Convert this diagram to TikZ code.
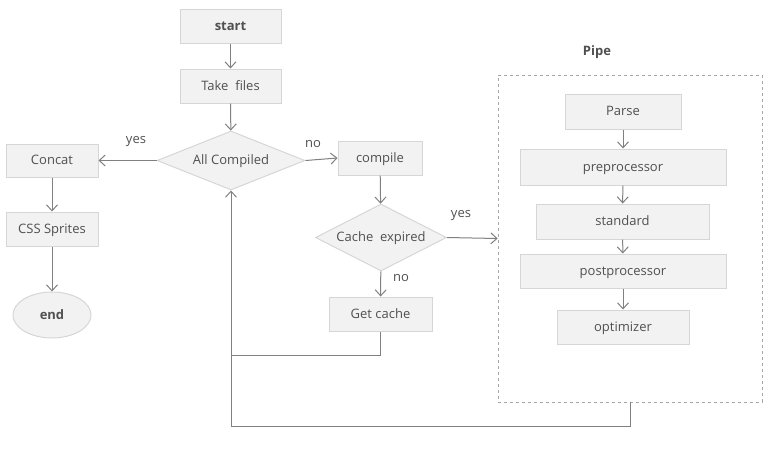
\documentclass[tikz,border=0pt]{standalone}
\usepackage{fontspec}
\setmainfont{Open Sans}
\usepackage{tikz}
\usetikzlibrary{positioning,arrows.meta,shapes.geometric}
\usepackage{xcolor}
\definecolor{boxfill}{HTML}{F2F2F2}
\definecolor{boxline}{HTML}{D6D6D6}
\definecolor{arrline}{HTML}{808080}
\definecolor{txt}{HTML}{505050}

\begin{document}
\begin{tikzpicture}[x=1pt, y=-1pt,
    every node/.style={text=txt, font=\fontsize{13}{15}\selectfont},
    stepbox/.style={draw=boxline, fill=boxfill, line width=1pt, minimum height=34pt, inner sep=0pt, text height=8pt, text depth=0pt},
    choice/.style={diamond, draw=boxline, fill=boxfill, line width=1pt, inner sep=0pt, text height=8pt, text depth=0pt},
    arr/.style={draw=arrline, line width=1pt, -{Straight Barb[length=6pt,width=11pt]}},
    lin/.style={draw=arrline, line width=1pt},
    lbl/.style={text=txt, inner sep=0pt}]
    \useasboundingbox (0,0) rectangle (776,448);

    % Main column
    \node[stepbox, minimum width=101pt, font=\fontsize{13}{15}\selectfont\bfseries] (start) at (230.5,26) {start};
    \node[stepbox, minimum width=101pt] (take) at (230.5,86) {Take\ \ files};
    \node[choice, aspect=2.5, minimum width=148pt, minimum height=59pt] (allc) at (231,160.5) {All Compiled};

    % Left branch
    \node[stepbox, minimum width=92pt, minimum height=33pt] (concat) at (52,160.5) {Concat};
    \node[stepbox, minimum width=92pt] (sprites) at (52,229) {CSS Sprites};
    \node[ellipse, draw=boxline, fill=boxfill, line width=1pt, minimum width=78pt, minimum height=46pt, inner sep=0pt,
          text height=8pt, text depth=0pt, font=\fontsize{13}{15}\selectfont\bfseries] (end) at (52,315) {end};

    % Middle branch
    \node[stepbox, minimum width=84pt] (compile) at (380,158) {compile};
    \node[choice, aspect=2, minimum width=131pt, minimum height=67pt] (cache) at (381,237.5) {Cache\ \ expired};
    \node[stepbox, minimum width=103pt] (getc) at (380.5,314) {Get cache};

    % Pipe
    \node[draw=arrline!70, dashed, line width=0.8pt, minimum width=264pt, minimum height=327pt, inner sep=0pt] (pipe) at (630,238.5) {};
    \node[font=\fontsize{13}{15}\selectfont\bfseries] (pipetitle) at (597,52) {Pipe};
    \node[stepbox, minimum width=116pt, minimum height=35pt] (parse) at (623,111.5) {Parse};
    \node[stepbox, minimum width=206pt, minimum height=36pt] (pre) at (623,167) {preprocessor};
    \node[stepbox, minimum width=173pt, minimum height=35pt] (std) at (622.5,221.5) {standard};
    \node[stepbox, minimum width=206pt] (post) at (623,271) {postprocessor};
    \node[stepbox, minimum width=132pt] (opt) at (623,327) {optimizer};

    % Loop back points
    \coordinate (loop) at (231,426);
    \coordinate (join) at (231,355);

    % Connectors
    \draw[arr] (start) -- (take);
    \draw[arr] (take) -- (allc);
    \draw[arr] (allc.west) -- (concat.east);
    \draw[arr] (concat) -- (sprites);
    \draw[arr] (sprites) -- (end);
    \draw[arr] (allc.east) -- (compile.west);
    \draw[arr] (compile) -- (cache);
    \draw[arr] (cache) -- (getc);
    \draw[arr] (cache.east) -- (pipe.west);
    \draw[arr] (parse) -- (pre);
    \draw[arr] (pre) -- (std);
    \draw[arr] (std) -- (post);
    \draw[arr] (post) -- (opt);
    \draw[lin] (getc.south) |- (join);
    \draw[arr] (pipe.south) |- (loop) -- (allc.south);

    % Labels
    \node[lbl] (yesl) at (136,142) {yes};
    \node[lbl] (nor) at (313,144) {no};
    \node[lbl] (yesc) at (461,216) {yes};
    \node[lbl] (noc) at (401,278) {no};
\end{tikzpicture}
\end{document}
